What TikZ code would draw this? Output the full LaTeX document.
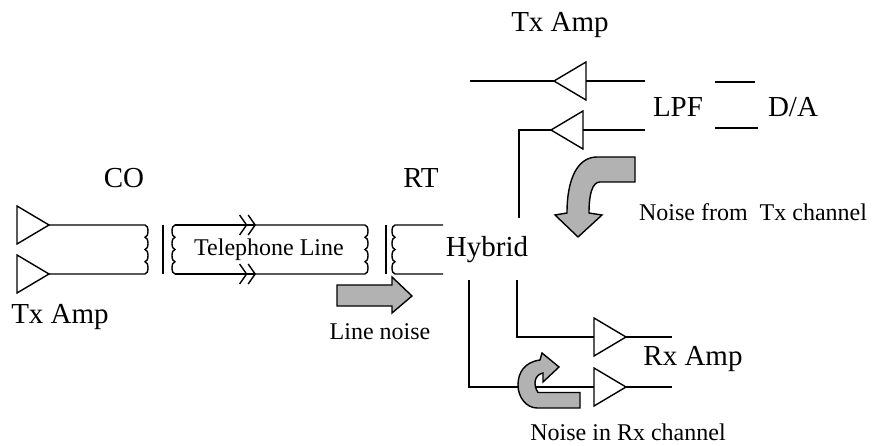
\documentclass[tikz,border=0pt]{standalone}
\usepackage{fontspec}
\setmainfont{Liberation Serif}
\usetikzlibrary{shapes.geometric, arrows.meta}

\newcommand{\coilright}{arc[start angle=-90,end angle=90,x radius=3,y radius=6.125]}
\newcommand{\coilleft}{arc[start angle=-90,end angle=-270,x radius=3,y radius=6.125]}

\begin{document}
\begin{tikzpicture}[x=1pt,y=-1pt,line width=1.4pt,
    ampr/.style={draw,isosceles triangle,isosceles triangle stretches,inner sep=0pt,outer sep=0pt,
        minimum width=38pt,minimum height=32pt,anchor=apex},
    ampl/.style={ampr,shape border rotate=180},
    biglabel/.style={inner sep=0pt,font=\fontsize{29}{31}\selectfont},
    smalllabel/.style={inner sep=0pt,font=\fontsize{24}{26}\selectfont},
    noisearrow/.style={draw,fill=noisegray},
    chevron/.style={-{Straight Barb[length=7pt,width=20pt]Straight Barb[length=7pt,width=20pt]}}]
    % Цвета
    \definecolor{noisegray}{RGB}{178,178,178}

    \useasboundingbox (0,0) rectangle (875,446);

    % Усилители
    \node[ampr] (txco1) at (49,225) {};
    \node[ampr] (txco2) at (49,274) {};
    \node[ampl] (txrt1) at (554,81) {};
    \node[ampl] (txrt2) at (551,130) {};
    \node[ampr] (rxrt1) at (626,337) {};
    \node[ampr] (rxrt2) at (626,387) {};

    % Точки
    \coordinate (cot) at (145,225);
    \coordinate (cob) at (145,274);
    \coordinate (lnlt) at (175,225);
    \coordinate (lnlb) at (175,274);
    \coordinate (lnrt) at (365,225);
    \coordinate (lnrb) at (365,274);
    \coordinate (chvt) at (256,225);
    \coordinate (chvb) at (256,274);
    \coordinate (rtt) at (395,225);
    \coordinate (rtb) at (395,274);
    \coordinate (hybt) at (443,225);
    \coordinate (hybb) at (443,274);
    \coordinate (barcoa) at (163,225);
    \coordinate (barcob) at (163,274);
    \coordinate (barrta) at (386,225);
    \coordinate (barrtb) at (386,274);
    \coordinate (txin) at (470,81);
    \coordinate (txhyb) at (519,218);
    \coordinate (lpfa1) at (645,81);
    \coordinate (lpfa2) at (645,130);
    \coordinate (lpfb1) at (715,82);
    \coordinate (lpfb2) at (715,128);
    \coordinate (daa1) at (755,82);
    \coordinate (daa2) at (758,128);
    \coordinate (rxhyb1) at (517,280);
    \coordinate (rxhyb2) at (469,280);
    \coordinate (rxout1) at (672,337);
    \coordinate (rxout2) at (672,387);

    % Линии
    \draw (txco1.apex) -- (cot) \foreach \i in {1,...,4} {\coilright} -- (txco2.apex);
    \draw (barcoa) -- (barcob);
    \draw (lnrt) -- (lnlt) \foreach \i in {1,...,4} {\coilleft} -- (lnrb);
    \draw (lnrt) \foreach \i in {1,...,4} {\coilright};
    \draw[chevron] (lnlt) -- (chvt);
    \draw[chevron] (lnlb) -- (chvb);
    \draw (barrta) -- (barrtb);
    \draw (hybt) -- (rtt) \foreach \i in {1,...,4} {\coilleft} -- (hybb);

    \draw (txin) -- (txrt1.apex);
    \draw (txrt1.lower side) -- (lpfa1);
    \draw (txrt2.lower side) -- (lpfa2);
    \draw (txrt2.apex) -| (txhyb);
    \draw (lpfb1) -- (daa1);
    \draw (lpfb2) -- (daa2);

    \draw (rxhyb1) |- (rxrt1.lower side);
    \draw (rxhyb2) |- (rxrt2.lower side);
    \draw (rxrt1.apex) -- (rxout1);
    \draw (rxrt2.apex) -- (rxout2);

    % Стрелки шума
    \draw[noisearrow] (337,285) -- (392,285) -- (392,277) -- (412,296) -- (392,313)
        -- (392,306) -- (337,306) -- cycle;
    \draw[noisearrow] (635,157) -- (597,157) .. controls (578,157) and (567,178) .. (567,213)
        -- (555,215) -- (578,237) -- (602,215) -- (589,213)
        .. controls (589,195) and (592,182) .. (600,182) -- (635,182) -- cycle;
    \draw[noisearrow] (580,392.5) -- (538,392.5) .. controls (533,385) and (534,375) .. (543,373)
        -- (543,382) -- (559,367) -- (542,353) -- (540,360)
        .. controls (525,362) and (518,372) .. (518,385)
        .. controls (518,398) and (527,408) .. (537,408) -- (580,408) -- cycle;

    % Текст
    \node[biglabel] (colabel) at (124,178) {CO};
    \node[biglabel] (rtlabel) at (421,178) {RT};
    \node[biglabel] (txcolabel) at (60,317) {Tx Amp};
    \node[biglabel] (txrtlabel) at (560,25) {Tx Amp};
    \node[biglabel] (rxlabel) at (693,359) {Rx Amp};
    \node[biglabel] (lpflabel) at (678,107) {LPF};
    \node[biglabel] (dalabel) at (793,107) {D/A};
    \node[biglabel] (hyblabel) at (487,250) {Hybrid};
    \node[smalllabel] (linelabel) at (269,250) {Telephone Line};
    \node[smalllabel] (lnlabel) at (380,332) {Line noise};
    \node[smalllabel] (txnlabel) at (753,212) {Noise from\ \ Tx channel};
    \node[smalllabel] (rxnlabel) at (628,432) {Noise in Rx channel};
\end{tikzpicture}
\end{document}
